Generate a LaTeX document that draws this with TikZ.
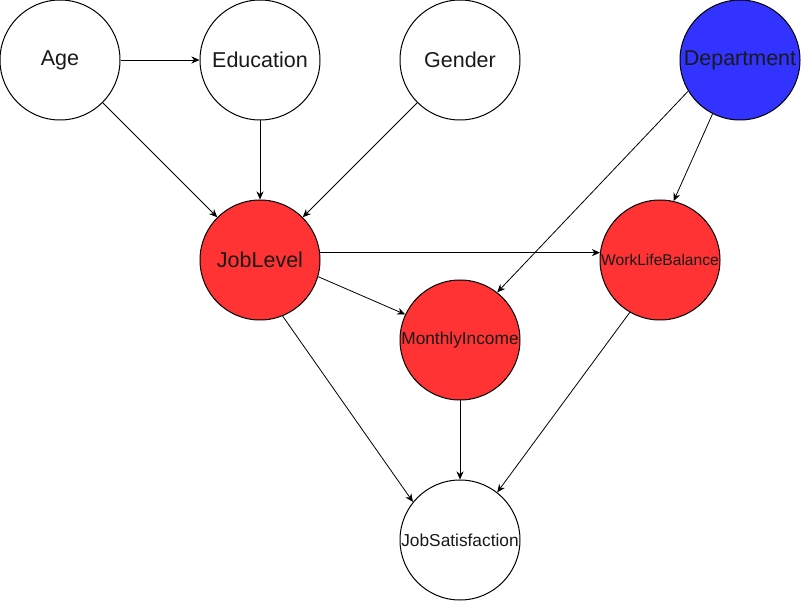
\documentclass[tikz,border=0pt]{standalone}
\usepackage{fontspec}
\setmainfont{Liberation Sans}
\usetikzlibrary{arrows.meta}
\definecolor{hotred}{HTML}{FF3333}
\definecolor{deepblue}{HTML}{3333FF}
\begin{document}
\begin{tikzpicture}[x=1pt,y=-1pt,
  var/.style={circle,draw=black,line width=1pt,minimum size=120pt,inner sep=0pt,text=black!90},
  big/.style={font=\fontsize{21.5}{24}\selectfont},
  small/.style={font=\fontsize{17.3}{20}\selectfont},
  tiny/.style={font=\fontsize{15.6}{18}\selectfont},
  edge/.style={line width=0.8pt,-{Stealth[length=8pt,width=7pt,inset=2.5pt]}}]
\useasboundingbox (0,0) rectangle (801,601);
% variables
\node[var,big,fill=white] (age) at (60,60) {Age};
\node[var,big,fill=white] (edu) at (260,60) {Education};
\node[var,big,fill=white] (gen) at (460,60) {Gender};
\node[var,big,fill=deepblue] (dep) at (740,60) {Department};
\node[var,big,fill=hotred] (jl) at (260,260) {JobLevel};
\node[var,tiny,fill=hotred] (wlb) at (660,260) {WorkLifeBalance};
\node[var,small,fill=hotred] (mi) at (460,340) {MonthlyIncome};
\node[var,small,fill=white] (js) at (460,540) {JobSatisfaction};
% dependencies
\draw[edge] (age) -- (edu);
\draw[edge] (age) -- (jl);
\draw[edge] (edu) -- (jl);
\draw[edge] (gen) -- (jl);
\draw[edge] (dep.211.7) -- (mi.52.4);
\draw[edge] (dep.243.9) -- (wlb.77.8);
\draw[edge] (jl.7.5) -- (wlb.173.5);
\draw[edge] (jl.-16.9) -- (mi.155.6);
\draw[edge] (jl.-68) -- (js.141);
\draw[edge] (mi) -- (js);
\draw[edge] (wlb.-120) -- (js.52);
\end{tikzpicture}
\end{document}
